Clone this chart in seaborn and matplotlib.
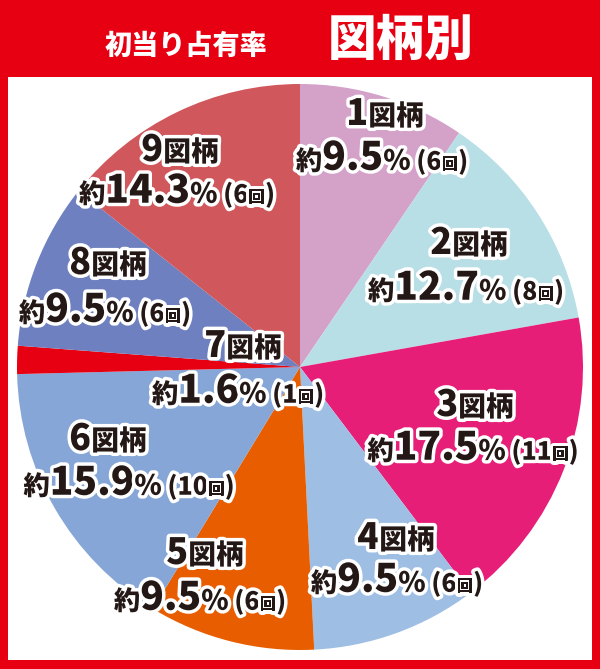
import matplotlib
matplotlib.use("Agg")
import matplotlib.pyplot as plt
import matplotlib.patheffects as pe
from matplotlib.offsetbox import TextArea, HPacker, AnnotationBbox
from matplotlib.patches import Rectangle
import seaborn as sns

# ---- data ----
symbols = ["1", "2", "3", "4", "5", "6", "7", "8", "9"]
percents = [9.5, 12.7, 17.5, 9.5, 9.5, 15.9, 1.6, 9.5, 14.3]
count_labels = ["6", "8", "11", "6", "6", "10", "1", "6", "6"]
colors = ["#d4a1c9", "#b8dfe6", "#e61e78", "#9ebfe3", "#e85d00",
          "#85a6d6", "#e60012", "#6e80bf", "#d0575b"]
title_left = "初当り占有率"
title_right = "図柄別"

# label line centres (figure pixels, measured from top)
line1_pos = [(385, 114), (469, 243), (475, 405), (396, 538), (205, 553),
             (108, 439), (243, 346), (108, 263), (180, 150)]
line2_pos = [(382, 158), (466, 288), (473, 448), (397, 580), (200, 598),
             (129, 483), (238, 391), (105, 310), (177, 191)]

W, H = 600, 669
sns.set_theme(style="white")
plt.rcParams["font.family"] = ["Noto Sans CJK JP", "DejaVu Sans"]

fig = plt.figure(figsize=(W / 100, H / 100), dpi=100)
fig.patch.set_facecolor("white")

RED = "#e60012"
# frame
fig.patches.append(Rectangle((0, 0), 1, 1, transform=fig.transFigure,
                             facecolor=RED, edgecolor="none", zorder=-2))
bw, bb, top = 8, 9, 77
fig.patches.append(Rectangle((bw / W, bb / H), (W - 2 * bw) / W, (H - top - bb) / H,
                             transform=fig.transFigure, facecolor="white",
                             edgecolor="none", zorder=-1))

# pie
cx, cy, r = 300, 367, 283
ax = fig.add_axes([(cx - r) / W, (H - cy - r) / H, 2 * r / W, 2 * r / H])
ax.set_zorder(1)
ax.set_facecolor("none")
pal = sns.color_palette(colors)
ax.pie(percents, colors=pal, startangle=90, counterclock=False,
       radius=1.0, wedgeprops=dict(linewidth=0))
ax.set_xlim(-1, 1)
ax.set_ylim(-1, 1)
ax.set_aspect("equal")
ax.axis("off")

# header
fig.text(186 / W, 1 - 46 / H, title_left, color="white", fontsize=19.5,
         fontweight="black", ha="center", va="center")
fig.text(401 / W, 1 - 41 / H, title_right, color="white", fontsize=35,
         fontweight="black", ha="center", va="center")

stroke = [pe.withStroke(linewidth=5, foreground="white")]


def rich_line(pieces, x, y):
    kids = []
    for txt, size in pieces:
        kids.append(TextArea(txt, textprops=dict(fontsize=size, fontweight="black",
                                                  color="#231815",
                                                  path_effects=stroke)))
    box = HPacker(children=kids, align="baseline", pad=0, sep=0)
    ab = AnnotationBbox(box, (x / W, 1 - y / H), xycoords="figure fraction",
                        frameon=False, box_alignment=(0.5, 0.5), pad=0,
                        annotation_clip=False)
    ab.set_zorder(5)
    fig.add_artist(ab)


for i in range(len(symbols)):
    x1, y1 = line1_pos[i]
    rich_line([(symbols[i], 26), ("図柄", 20)], x1, y1)
    x2, y2 = line2_pos[i]
    rich_line([("約", 19), (f"{percents[i]:.1f}", 28), ("%", 20),
               (" (", 18), (count_labels[i], 18), ("回", 12), (")", 18)], x2, y2)

fig.savefig("out.png", dpi=100, facecolor=fig.get_facecolor())
